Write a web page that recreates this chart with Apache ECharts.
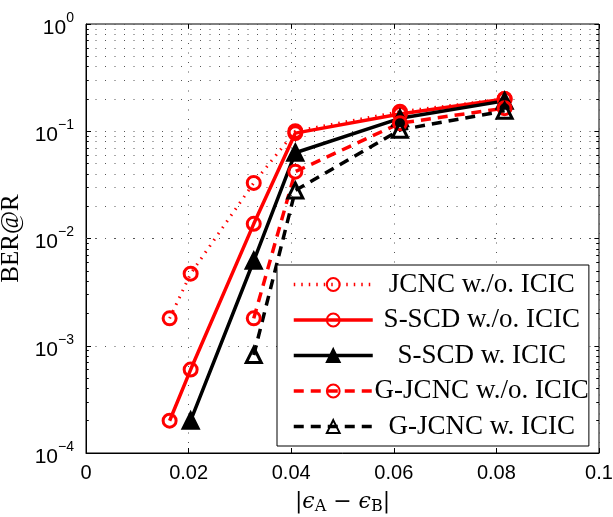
<!DOCTYPE html>
<html>
<head>
<meta charset="utf-8">
<script src="https://cdn.jsdelivr.net/npm/echarts@6/dist/echarts.min.js"></script>
<style>html,body{margin:0;padding:0;background:#fff}#c{width:613px;height:517px}</style>
</head>
<body>
<div id="c"></div>
<script>
// x positions |eps_A - eps_B|
const xJCNC = [0.0163, 0.0204, 0.0327, 0.0408, 0.0612, 0.0816];
const yJCNC = [1.8e-3, 4.7e-3, 0.033, 0.1, 0.152, 0.2];
const xSSCDwo = [0.0163, 0.0204, 0.0327, 0.0408, 0.0612, 0.0816];
const ySSCDwo = [2.0e-4, 6.0e-4, 0.0137, 0.096, 0.145, 0.2];
const xSSCDw = [0.0204, 0.0327, 0.0408, 0.0612, 0.0816];
const ySSCDw = [2.0e-4, 6.2e-3, 0.063, 0.132, 0.192];
const xGJCNCwo = [0.0327, 0.0408, 0.0612, 0.0816];
const yGJCNCwo = [1.8e-3, 0.042, 0.119, 0.164];
const xGJCNCw = [0.0327, 0.0408, 0.0612, 0.0816];
const yGJCNCw = [8.2e-4, 0.028, 0.103, 0.155];
const seriesNames = ['JCNC w./o. ICIC', 'S-SCD w./o. ICIC', 'S-SCD w. ICIC', 'G-JCNC w./o. ICIC', 'G-JCNC w. ICIC'];
const xTicks = [0, 0.02, 0.04, 0.06, 0.08, 0.1];
const yDecades = [1e-4, 1e-3, 1e-2, 1e-1, 1];

const pairs = (xs, ys) => xs.map((x, i) => [x, ys[i]]);
const minorVals = [];
for (let k = -4; k < 0; k++) for (let m = 2; m <= 9; m++) minorVals.push(m * Math.pow(10, k));

const tickLen = 0.0009;
const tickLenY = 0.045;
const tickData = [];
minorVals.forEach(v => {
  tickData.push([{coord: [0, v]}, {coord: [tickLen * 0.6, v]}]);
  tickData.push([{coord: [0.1, v]}, {coord: [0.1 - tickLen * 0.6, v]}]);
});
yDecades.forEach(v => {
  tickData.push([{coord: [0.1, v]}, {coord: [0.1 - tickLen, v]}]);
});
xTicks.forEach(x => {
  tickData.push([{coord: [x, 1]}, {coord: [x, Math.pow(10, -tickLenY)]}]);
});

const RED = '#ff0000', BLK = '#000000';
function mk(name, data, color, lineType, lineWidth, symbol, filled, size) {
  return {
    name, type: 'line', data, symbol, symbolSize: size,
    lineStyle: {color, type: lineType, width: lineWidth},
    itemStyle: {color: filled ? color : 'rgba(255,255,255,0)', borderColor: color, borderWidth: 3},
    z: 5, animation: false
  };
}

const chart = echarts.init(document.getElementById('c'));
chart.setOption({
  backgroundColor: '#fff',
  animation: false,
  grid: {left: 86, top: 24, right: 14, bottom: 64, outerBoundsMode: 'none', containLabel: false,
    show: true, borderColor: '#000', borderWidth: 1, backgroundColor: '#fff'},
  xAxis: {
    type: 'value', min: 0, max: 0.1, interval: 0.02,
    axisLine: {show: true, lineStyle: {color: '#000', width: 1}},
    axisTick: {show: true, inside: true, length: 5, lineStyle: {color: '#000'}},
    axisLabel: {color: '#000', fontFamily: 'Liberation Sans', fontSize: 20, margin: 10,
      formatter: v => String(+v.toFixed(2))},
    splitLine: {show: true, lineStyle: {color: '#555', type: [1, 8.5], width: 1}},
    name: '|{i|ϵ}{s|A} − {i|ϵ}{s|B}|', nameLocation: 'middle', nameGap: 36,
    nameTextStyle: {color: '#000', fontFamily: 'DejaVu Serif', fontSize: 22,
      rich: {i: {fontFamily: 'DejaVu Serif', fontSize: 22, fontStyle: 'italic'},
             s: {fontFamily: 'DejaVu Serif', fontSize: 16, padding: [10, 0, 0, 0]}}}
  },
  yAxis: {
    type: 'log', logBase: 10, min: 1e-4, max: 1,
    axisLine: {show: true, lineStyle: {color: '#000', width: 1}},
    axisTick: {show: true, inside: true, length: 5, lineStyle: {color: '#000'}},
    axisLabel: {color: '#000', fontFamily: 'Liberation Sans', fontSize: 20, margin: 12,
      formatter: v => {
        const e = Math.round(Math.log10(v));
        return '{b|10}{e|' + (e < 0 ? '−' + (-e) : String(e)) + '}';
      },
      rich: {b: {fontSize: 21, fontFamily: 'Liberation Sans', color: '#000', padding: [8, 0, 0, 0]},
             e: {fontSize: 14, fontFamily: 'Liberation Sans', color: '#000', padding: [0, 0, 12, 0]}}},
    splitLine: {show: true, lineStyle: {color: '#555', type: [1, 8.5], width: 1}},
    name: 'BER@R', nameLocation: 'middle', nameGap: 50, nameRotate: 90,
    nameTextStyle: {color: '#000', fontFamily: 'Liberation Serif', fontSize: 25}
  },
  legend: {
    orient: 'vertical', left: 277, top: 265,
    data: seriesNames,
    backgroundColor: '#fff', borderColor: '#000', borderWidth: 1,
    padding: [6, 0, 6, 15], itemGap: 8.5, itemWidth: 79, itemHeight: 16,
    lineStyle: {width: 3.5},
    formatter: n => '{a|' + n + '}',
    textStyle: {color: '#000', fontFamily: 'Liberation Serif', fontSize: 27,
      rich: {a: {width: 208, align: 'center', fontSize: 27, fontFamily: 'Liberation Serif', color: '#000'}}},
    z: 20
  },
  series: [
    mk(seriesNames[0], pairs(xJCNC, yJCNC), RED, [1.5, 6], 3, 'circle', false, 13),
    mk(seriesNames[1], pairs(xSSCDwo, ySSCDwo), RED, 'solid', 3.5, 'circle', false, 13),
    mk(seriesNames[2], pairs(xSSCDw, ySSCDw), BLK, 'solid', 3.5, 'triangle', true, 15),
    mk(seriesNames[3], pairs(xGJCNCwo, yGJCNCwo), RED, [10, 7], 3.5, 'circle', false, 13),
    mk(seriesNames[4], pairs(xGJCNCw, yGJCNCw), BLK, [10, 7], 3.5, 'triangle', false, 15),
    {
      name: 'grid-minor', type: 'line', data: [], silent: true, z: 1,
      markLine: {symbol: 'none', silent: true, animation: false, label: {show: false},
        lineStyle: {color: '#555', type: [1, 8.5], width: 1},
        data: minorVals.map(v => ({yAxis: v}))}
    },
    {
      name: 'ticks', type: 'line', data: [], silent: true, z: 2,
      markLine: {symbol: 'none', silent: true, animation: false, label: {show: false},
        lineStyle: {color: '#000', type: 'solid', width: 1},
        data: tickData}
    }
  ]
});
</script>
</body>
</html>
